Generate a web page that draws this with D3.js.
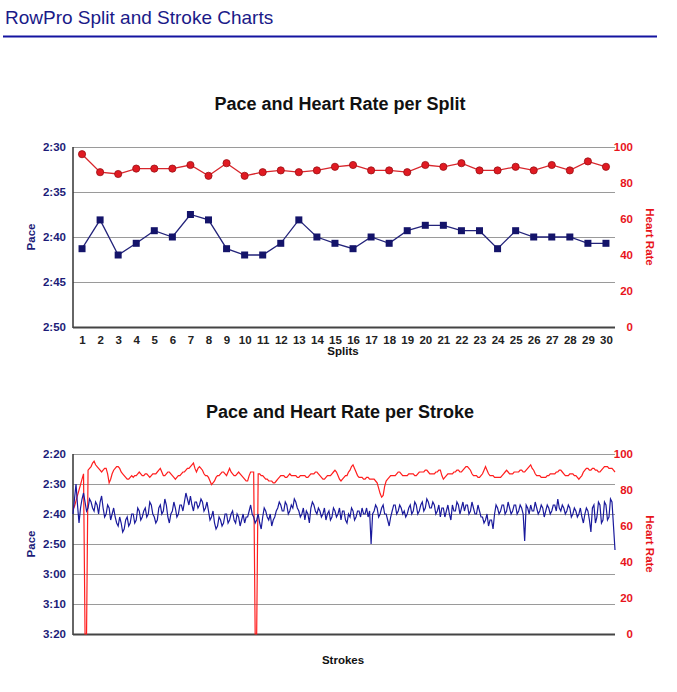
<!DOCTYPE html>
<html><head><meta charset="utf-8">
<script src="https://cdn.jsdelivr.net/npm/d3@7"></script>
<style>
body{margin:0;background:#fff;}
svg{display:block;font-family:"Liberation Sans",Arial,Helvetica,sans-serif;}
</style>
</head><body>
<svg id="c" width="677" height="692"></svg>
<script>
// ---------- DATA ----------
const splits = [1,2,3,4,5,6,7,8,9,10,11,12,13,14,15,16,17,18,19,20,21,22,23,24,25,26,27,28,29,30];
// pace per split, seconds per 500m
const splitPace = [161.3,158.1,162.0,160.7,159.3,160.0,157.5,158.1,161.3,162.0,162.0,160.7,158.1,160.0,160.7,
                   161.3,160.0,160.7,159.3,158.7,158.7,159.3,159.3,161.3,159.3,160.0,160.0,160.0,160.7,160.7];
const splitHR = [96,86,85,88,88,88,90,84,91,84,86,87,86,87,89,90,87,87,86,90,89,91,87,87,89,87,90,87,92,89];
const splitPaceTicks = [150,155,160,165,170];
const hrTicks = [0,20,40,60,80,100];

// per stroke, pace in seconds per 500m
const strokePace = [
160,155,150,157,163,158,155,153,156,159,158,155,156,158,159,156,157,160,156,154,
158,161,160,157,158,162,160,158,161,163,164,161,163,166,165,162,161,164,163,160,
160,163,162,158,159,162,161,159,158,161,160,156,157,160,161,163,162,158,157,160,
159,155,157,161,163,160,159,156,158,161,160,157,157,159,156,153,155,157,154,157,
159,156,156,158,157,155,156,159,158,156,159,162,161,159,163,165,164,161,162,164,
163,160,160,163,162,160,159,162,163,160,161,164,162,160,163,161,161,159,157,160,
161,163,162,160,163,165,161,158,159,161,162,160,164,162,161,159,158,156,157,159,
159,156,157,160,159,157,158,155,156,158,159,161,160,158,162,159,160,163,158,156,
157,159,160,158,159,161,160,158,162,160,159,162,161,158,159,161,160,158,162,159,
159,162,163,160,161,158,159,162,161,159,159,161,158,160,160,158,161,159,170,160,
159,157,158,161,160,158,157,160,160,162,164,161,159,157,157,160,159,157,158,160,
159,161,160,158,157,160,159,156,157,160,159,157,156,159,158,155,156,158,158,156,
157,160,159,157,161,158,158,161,159,157,160,162,157,159,159,156,157,160,158,156,
159,157,157,160,159,156,158,160,160,157,159,161,161,163,162,160,164,162,162,165,
160,157,158,160,159,157,157,160,159,156,158,160,159,157,157,160,159,157,158,160,
169,157,158,160,157,159,159,156,158,160,159,157,158,161,159,157,158,160,159,157,
157,159,155,158,159,157,158,160,159,157,158,161,160,158,159,161,160,158,161,163,
160,158,159,162,166,158,157,163,161,156,157,163,162,156,157,162,161,155,156,164,
172];
// per stroke, heart rate in bpm
const strokeHR = [
69,71,74,77,80,83,86,89,0,0,91,92,93,95,96,94,93,92,91,90,
91,92,92,89,84,86,89,91,92,93,93,92,90,89,88,87,86,86,87,88,
87,88,88,89,90,89,88,88,89,89,88,87,88,89,89,89,90,91,92,90,
88,88,89,90,90,89,88,87,86,87,88,88,89,90,90,91,92,92,93,94,
95,92,90,92,93,92,91,89,88,88,87,85,83,84,85,87,88,88,89,90,
90,89,88,90,92,90,89,88,88,89,90,89,88,87,86,85,85,88,90,90,
90,0,0,89,89,88,88,87,86,86,85,85,85,84,84,85,86,87,88,88,
88,87,87,88,89,88,88,88,88,87,87,88,88,88,88,87,87,88,89,89,
89,90,90,89,88,87,86,86,87,88,88,88,89,90,91,90,88,86,85,86,
87,88,88,90,91,93,94,92,90,88,87,87,87,86,86,87,87,86,86,86,
86,85,84,81,78,76,77,82,85,86,87,88,88,88,88,89,90,90,89,88,
88,88,88,89,89,89,89,88,88,89,90,90,90,90,91,91,90,89,89,89,
89,90,90,91,91,88,86,87,88,89,89,89,89,90,90,91,91,90,90,91,
92,93,93,92,91,89,88,88,88,87,87,88,89,91,93,91,89,88,88,88,
87,87,87,87,87,88,89,90,91,90,89,89,89,90,90,90,90,91,91,90,
90,91,92,93,94,92,91,89,88,88,88,87,87,87,87,88,88,89,89,89,
89,90,90,91,91,90,89,88,88,88,89,89,89,88,88,87,86,87,88,90,
91,92,92,91,91,92,92,91,91,90,90,91,92,93,93,93,92,92,92,91,
90];
const strokeIndex = strokePace.map((d,i)=>i);
const strokePaceTicks = [140,150,160,170,180,190,200];

// ---------- DRAW ----------
const svg = d3.select("#c");
const fmt = s => Math.floor(s/60)+":"+String(s%60).padStart(2,"0");
const NAVY = "#1c1c78", RED = "#e8141c";
const FF = "'Liberation Sans',Arial,sans-serif";

svg.append("text").attr("x",5).attr("y",24).attr("font-size",19)
  .attr("fill","#1a1a88").text("RowPro Split and Stroke Charts");
svg.append("line").attr("x1",3).attr("x2",657).attr("y1",36.5).attr("y2",36.5)
  .attr("stroke","#1414a0").attr("stroke-width",2);

function frame(o){
  const g = svg.append("g");
  const L=73,R=615;
  g.append("text").attr("x",340).attr("y",o.titleY).attr("text-anchor","middle")
    .attr("font-size",18).attr("font-weight","bold").attr("fill","#111").text(o.title);
  g.selectAll("line.grid").data(o.paceTicks).join("line")
    .attr("x1",L).attr("x2",R).attr("y1",d=>Math.round(o.yP(d))+0.5).attr("y2",d=>Math.round(o.yP(d))+0.5)
    .attr("stroke","#9a9a9a").attr("stroke-width",1);
  const la = g.append("g").attr("transform",`translate(${L},0)`)
    .call(d3.axisLeft(o.yP).tickValues(o.paceTicks).tickFormat(fmt).tickSize(0).tickPadding(7));
  la.select(".domain").remove();
  la.selectAll("text").attr("font-size",11.5).attr("font-weight","bold").attr("fill",NAVY).attr("font-family",FF);
  const ra = g.append("g").attr("transform",`translate(${R},0)`)
    .call(d3.axisRight(o.yH).tickValues(hrTicks).tickSize(0).tickPadding(0));
  ra.select(".domain").remove();
  ra.selectAll("text").attr("font-size",11.5).attr("font-weight","bold").attr("fill",RED)
    .attr("text-anchor","end").attr("x",18).attr("font-family",FF);
  g.append("line").attr("x1",L).attr("x2",L).attr("y1",o.top).attr("y2",o.bottom+1)
    .attr("stroke","#333").attr("stroke-width",1.5);
  g.append("line").attr("x1",L).attr("x2",R).attr("y1",o.bottom+0.5).attr("y2",o.bottom+0.5)
    .attr("stroke","#444").attr("stroke-width",2);
  g.append("text").attr("transform",`translate(35,${(o.top+o.bottom)/2}) rotate(-90)`)
    .attr("text-anchor","middle").attr("font-size",11.5).attr("font-weight","bold").attr("fill",NAVY).text("Pace");
  g.append("text").attr("transform",`translate(646,${(o.top+o.bottom)/2}) rotate(90)`)
    .attr("text-anchor","middle").attr("font-size",11.5).attr("font-weight","bold").attr("fill",RED).text("Heart Rate");
  g.append("text").attr("x",343).attr("y",o.xTitleY).attr("text-anchor","middle")
    .attr("font-size",11.5).attr("font-weight","bold").attr("fill","#111").text(o.xTitle);
  return g;
}

// ---- Chart 1 ----
const y1P = d3.scaleLinear().domain([150,170]).range([147,327]);
const y1H = d3.scaleLinear().domain([0,100]).range([327,147]);
const x1 = d3.scalePoint().domain(splits).range([73,615]).padding(0.5);
const g1 = frame({title:"Pace and Heart Rate per Split",titleY:110,top:147,bottom:327,
  yP:y1P,yH:y1H,paceTicks:splitPaceTicks,xTitle:"Splits",xTitleY:355});
const xa = g1.append("g").attr("transform","translate(0,327)")
  .call(d3.axisBottom(x1).tickSize(0).tickPadding(9));
xa.select(".domain").remove();
xa.selectAll("text").attr("font-size",11.5).attr("font-weight","bold").attr("fill","#222").attr("font-family",FF);

g1.append("path").datum(splitHR).attr("fill","none").attr("stroke","#d8262c").attr("stroke-width",1.3)
  .attr("d",d3.line().x((d,i)=>x1(splits[i])).y(d=>y1H(d)));
g1.selectAll("circle.hr").data(splitHR).join("circle")
  .attr("cx",(d,i)=>x1(splits[i])).attr("cy",d=>y1H(d)).attr("r",3.6)
  .attr("fill","#e01a22").attr("stroke","#9a0f14").attr("stroke-width",0.8);
g1.append("path").datum(splitPace).attr("fill","none").attr("stroke","#23237a").attr("stroke-width",1.3)
  .attr("d",d3.line().x((d,i)=>x1(splits[i])).y(d=>y1P(d)));
g1.selectAll("rect.pc").data(splitPace).join("rect")
  .attr("x",(d,i)=>x1(splits[i])-3.5).attr("y",d=>y1P(d)-3.5).attr("width",7).attr("height",7)
  .attr("fill","#14146a");

// ---- Chart 2 ----
const y2P = d3.scaleLinear().domain([140,200]).range([454,634]);
const y2H = d3.scaleLinear().domain([0,100]).range([634,454]);
const x2 = d3.scaleLinear().domain([0,strokeIndex.length-1]).range([73,615]);
const g2 = frame({title:"Pace and Heart Rate per Stroke",titleY:418,top:454,bottom:634,
  yP:y2P,yH:y2H,paceTicks:strokePaceTicks,xTitle:"Strokes",xTitleY:664});
g2.append("path").datum(strokeHR).attr("fill","none").attr("stroke","#ff1e1e").attr("stroke-width",1.2)
  .attr("d",d3.line().x((d,i)=>x2(strokeIndex[i])).y(d=>y2H(d)));
g2.append("path").datum(strokePace).attr("fill","none").attr("stroke","#1a1a9c").attr("stroke-width",1.2)
  .attr("d",d3.line().x((d,i)=>x2(strokeIndex[i])).y(d=>y2P(d)));
</script>
</body></html>
